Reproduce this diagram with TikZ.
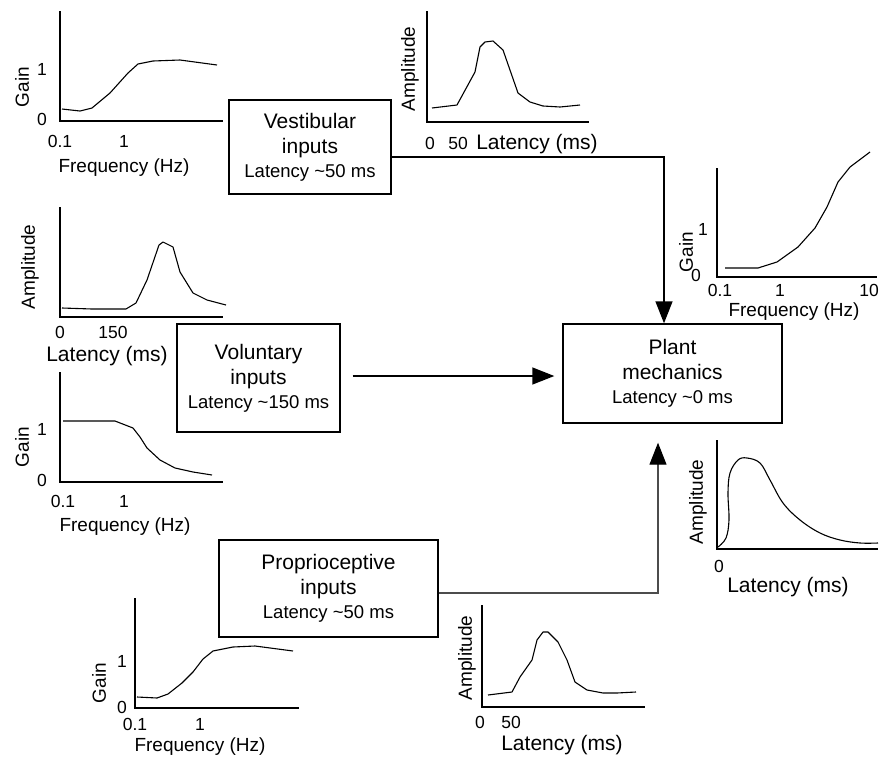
\documentclass[tikz,border=0pt]{standalone}
\usepackage{fontspec}
\setmainfont{Liberation Sans}
\usetikzlibrary{arrows.meta,calc}
\begin{document}
\begin{tikzpicture}[x=1pt,y=-1pt,
  axisline/.style={line width=1.4pt},
  curve/.style={line width=1.1pt, line join=round},
  ticklbl/.style={font=\fontsize{17.5}{17.5}\selectfont, inner sep=0pt},
  axlabel/.style={font=\fontsize{19}{19}\selectfont, inner sep=0pt},
  latlabel/.style={font=\fontsize{21}{21}\selectfont, inner sep=0pt},
  blockbox/.style={draw, line width=1.4pt, align=center, inner sep=0pt,
    font=\fontsize{21}{25}\selectfont},
  conn/.style={line width=1.4pt, -{Triangle[width=17pt,length=22pt]}},
]
\useasboundingbox (0,0) rectangle (879,756);

% ---------- blocks ----------
\node[blockbox, minimum width=162pt, minimum height=94pt] (vest) at (310,147)
  {Vestibular\\inputs\\[-1pt]{\fontsize{18.5}{22}\selectfont Latency \textasciitilde50 ms}};
\node[blockbox, minimum width=163pt, minimum height=108pt] (vol) at (258.5,378)
  {Voluntary\\inputs\\[-1pt]{\fontsize{18.5}{22}\selectfont Latency \textasciitilde150 ms}};
\node[blockbox, minimum width=219pt, minimum height=99pt] (plant) at (672.5,373.5)
  {Plant\\mechanics\\[-1pt]{\fontsize{18.5}{22}\selectfont Latency \textasciitilde0 ms}};
\node[blockbox, minimum width=219pt, minimum height=97pt] (prop) at (328.5,588.5)
  {Proprioceptive\\inputs\\[-1pt]{\fontsize{18.5}{22}\selectfont Latency \textasciitilde50 ms}};

% ---------- connectors ----------
\draw[conn] ([yshift=-10pt]vest.east) -| ([xshift=-8.5pt]plant.north);
\draw[conn] ([xshift=12pt,yshift=2pt]vol.east) -- ([xshift=-8pt,yshift=-2.5pt]plant.west);
\draw[line width=1.2pt, draw=black!70, -{Triangle[width=17pt,length=22pt,color=black]}]
  ([yshift=-4.5pt]prop.east) -| ([xshift=-14.5pt,yshift=-19pt]plant.south);

% ---------- top-left gain plot ----------
\draw[axisline] (60,11) |- (223,121);
\draw[curve] plot coordinates {(62,109) (80,111) (92,108) (110,93) (128,73) (138,64) (153,61) (180,60) (217,65)};
\node[axlabel, rotate=90] (tlG) at (22,87) {Gain};
\node[ticklbl] (tlA) at (42,69) {1};
\node[ticklbl] (tlB) at (42,119) {0};
\node[ticklbl, anchor=base] (tlC) at (60,147) {0.1};
\node[ticklbl, anchor=base] (tlD) at (124,147) {1};
\node[axlabel, anchor=base] (tlF) at (124,172) {Frequency (Hz)};

% ---------- top-middle amplitude plot ----------
\draw[axisline] (427,11) |- (589,122);
\draw[curve] plot coordinates {(432,108) (457,105) (475,72) (480,47) (485,42) (493,41) (503,50) (518,93) (530,102) (543,106) (560,107) (580,105)};
\node[axlabel, rotate=90] (tmA) at (410,69) {Amplitude};
\node[ticklbl, anchor=base] (tmB) at (430,149) {0};
\node[ticklbl, anchor=base] (tmC) at (458,149) {50};
\node[latlabel, anchor=base] (tmL) at (537,149) {Latency (ms)};

% ---------- top-right gain plot ----------
\draw[axisline] (717,168) |- (877,277);
\draw[curve] plot coordinates {(725,268) (758,268) (777,262) (798,247) (815,228) (827,207) (838,182) (850,167) (870,152)};
\node[axlabel, rotate=90] (trG) at (686,252) {Gain};
\node[ticklbl] (trA) at (703,229) {1};
\node[ticklbl] (trB) at (696,275) {0};
\node[ticklbl, anchor=base] (trC) at (720,296) {0.1};
\node[ticklbl, anchor=base] (trD) at (780,296) {1};
\node[ticklbl, anchor=base] (trE) at (869,296) {10};
\node[axlabel, anchor=base] (trF) at (794,316) {Frequency (Hz)};

% ---------- middle-left amplitude plot ----------
\draw[axisline] (60,207) |- (223,317);
\draw[curve] plot coordinates {(62,308) (92,309) (126,309) (136,303) (147,280) (159,245) (163,242) (173,247) (180,272) (193,293) (207,300) (226,305)};
\node[axlabel, rotate=90] (maA) at (30,267) {Amplitude};
\node[ticklbl, anchor=base] (maB) at (60,338) {0};
\node[ticklbl, anchor=base] (maC) at (113,338) {150};
\node[latlabel, anchor=base] (maL) at (107,361) {Latency (ms)};

% ---------- middle-left gain plot ----------
\draw[axisline] (60,372) |- (223,482);
\draw[curve] plot coordinates {(63,421) (115,421) (133,428) (140,437) (147,448) (160,460) (175,468) (193,472) (212,475)};
\node[axlabel, rotate=90] (mgG) at (22,447) {Gain};
\node[ticklbl] (mgA) at (42,429) {1};
\node[ticklbl] (mgB) at (42,480) {0};
\node[ticklbl, anchor=base] (mgC) at (63,507) {0.1};
\node[ticklbl, anchor=base] (mgD) at (124,507) {1};
\node[axlabel, anchor=base] (mgF) at (125,531) {Frequency (Hz)};

% ---------- bottom-right amplitude plot ----------
\draw[axisline] (717,440) |- (878,549);
\draw[curve] plot[smooth, tension=0.6] coordinates {(718,547) (726,538) (729,520) (728,493) (730,473) (738,460) (747,458) (760,463) (770,480) (783,503) (800,520) (820,533) (840,540) (860,543) (878,543)};
\node[axlabel, rotate=90] (brA) at (698,502) {Amplitude};
\node[ticklbl, anchor=base] (brB) at (719,572) {0};
\node[latlabel, anchor=base] (brL) at (788,592) {Latency (ms)};

% ---------- bottom-left gain plot ----------
\draw[axisline] (135,598) |- (299,708);
\draw[curve] plot coordinates {(137,697) (157,698) (168,694) (182,683) (193,672) (203,659) (213,651) (233,647) (255,646) (293,651)};
\node[axlabel, rotate=90] (blG) at (99,683) {Gain};
\node[ticklbl] (blA) at (122,661) {1};
\node[ticklbl] (blB) at (122,707) {0};
\node[ticklbl, anchor=base] (blC) at (135,730) {0.1};
\node[ticklbl, anchor=base] (blD) at (200,730) {1};
\node[axlabel, anchor=base] (blF) at (200,751) {Frequency (Hz)};

% ---------- bottom-middle amplitude plot ----------
\draw[axisline] (482,605) |- (645,707);
\draw[curve] plot coordinates {(488,695) (512,692) (520,677) (532,660) (537,640) (543,632) (548,632) (558,642) (567,660) (575,682) (587,690) (603,693) (617,693) (636,692)};
\node[axlabel, rotate=90] (bmA) at (467,658) {Amplitude};
\node[ticklbl, anchor=base] (bmB) at (480,728) {0};
\node[ticklbl, anchor=base] (bmC) at (511,728) {50};
\node[latlabel, anchor=base] (bmL) at (562,750) {Latency (ms)};
\end{tikzpicture}
\end{document}
